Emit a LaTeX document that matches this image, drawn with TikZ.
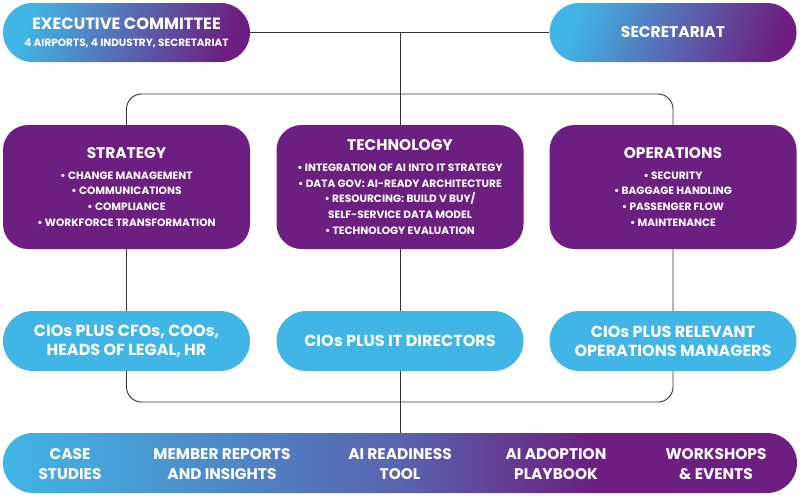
\documentclass[tikz,border=0pt]{standalone}
\usepackage{fontspec}
\setmainfont{Poppins}
\usetikzlibrary{backgrounds,calc}
\definecolor{cy}{HTML}{41B6E6}
\definecolor{pu}{HTML}{6C1F80}
\definecolor{ln}{HTML}{333333}
\pgfdeclarehorizontalshading{pillshade}{100bp}{color(0bp)=(cy); color(25bp)=(cy); color(75bp)=(pu); color(100bp)=(pu)}
\pgfdeclarehorizontalshading{barshade}{100bp}{color(0bp)=(cy); color(25bp)=(cy); color(32bp)=(cy!85!pu); color(50bp)=(cy!45!pu); color(62bp)=(pu); color(100bp)=(pu)}
\newcommand{\hdfnt}{\bfseries\fontsize{15.4}{18}\selectfont}
\newcommand{\blfnt}{\bfseries\fontsize{10.6}{15.7}\selectfont}
\tikzset{
  conn/.style={draw=ln, line width=0.9pt},
  gradpill/.style={shade, shading=pillshade, shading angle=-20, rounded corners=29.5pt, minimum width=247pt, minimum height=59pt, inner sep=0pt, text=white, align=center},
  purbox/.style={fill=pu, rounded corners=25pt, minimum width=247pt, minimum height=124pt, inner sep=0pt, text=white, align=center, font=\blfnt},
  cypill/.style={fill=cy, rounded corners=30pt, minimum width=247pt, minimum height=60pt, inner sep=0pt, text=white, align=center},
  bartxt/.style={text=white, align=center, inner sep=0pt, font=\bfseries\fontsize{15.4}{19.5}\selectfont},
  big/.style={font=\bfseries\fontsize{16}{19}\selectfont},
}
\begin{document}
\begin{tikzpicture}[x=1pt,y=-1pt]
\useasboundingbox (0,0) rectangle (800,496);
% top row
\node[gradpill, font=\bfseries\fontsize{10.5}{13}\selectfont] (exec) at (126.5,32.5) {{\bfseries\fontsize{16.3}{20}\selectfont EXECUTIVE COMMITTEE}\\[4pt]4 AIRPORTS, 4 INDUSTRY, SECRETARIAT};
\node[gradpill] (sec) at (673,32.5) {\bfseries\fontsize{15.5}{20}\selectfont SECRETARIAT};
% workstream boxes
\node[purbox] (strat) at (126.5,187) {{\hdfnt STRATEGY}\\[5pt]
 • CHANGE MANAGEMENT\\• COMMUNICATIONS\\• COMPLIANCE\\• WORKFORCE TRANSFORMATION};
\node[purbox] (tech) at (400,187) {{\hdfnt TECHNOLOGY}\\[5pt]
 • INTEGRATION OF AI INTO IT STRATEGY\\• DATA GOV: AI-READY ARCHITECTURE\\• RESOURCING: BUILD V BUY/\\SELF-SERVICE DATA MODEL\\• TECHNOLOGY EVALUATION};
\node[purbox] (ops) at (673,187) {{\hdfnt OPERATIONS}\\[5pt]
 • SECURITY\\• BAGGAGE HANDLING\\• PASSENGER FLOW\\• MAINTENANCE};
% CIO pills
\node[cypill, big] (cstrat) at (126.5,341) {CIOs PLUS CFOs, COOs,\\HEADS OF LEGAL, HR};
\node[cypill, big] (ctech) at (400,341) {CIOs PLUS IT DIRECTORS};
\node[cypill, big] (cops) at (673,341) {CIOs PLUS RELEVANT\\OPERATIONS MANAGERS};
% bottom bar
\node[shade, shading=barshade, rounded corners=30pt, minimum width=794pt, minimum height=60pt, inner sep=0pt] (bar) at (400,463) {};
\node[bartxt] (case) at (70,464) {CASE\\STUDIES};
\node[bartxt] (mem) at (222,464) {MEMBER REPORTS\\AND INSIGHTS};
\node[bartxt] (tool) at (400,464) {AI READINESS\\TOOL};
\node[bartxt] (play) at (556,464) {AI ADOPTION\\PLAYBOOK};
\node[bartxt] (work) at (716,464) {WORKSHOPS\\\& EVENTS};
% connectors
\coordinate (looptop) at (400,94);
\coordinate (loopbot) at (400,402);
\begin{scope}[on background layer]
\draw[conn] (exec.east) -- (sec.west);
\draw[conn] (exec.east -| bar.north) -- (bar.north);
\draw[conn, rounded corners=15pt] (strat.center |- looptop) rectangle (ops.center |- loopbot);
\end{scope}
\end{tikzpicture}
\end{document}
